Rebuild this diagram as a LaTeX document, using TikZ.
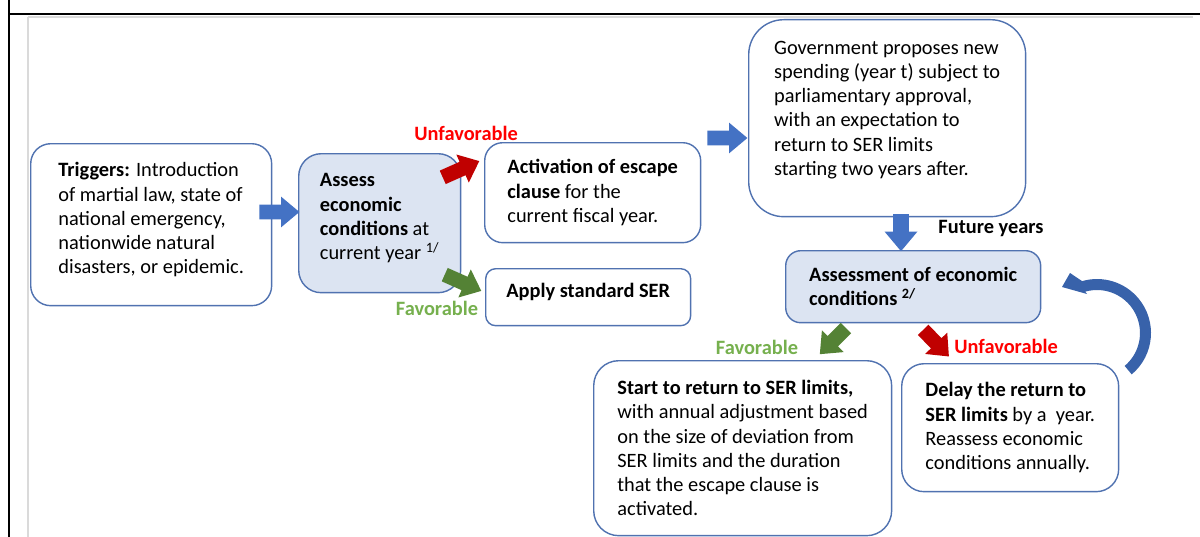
\documentclass[tikz,border=0pt]{standalone}
\usepackage{fontspec}
\setmainfont{Carlito}
\usetikzlibrary{shapes.arrows,positioning,calc}

\definecolor{boxblue}{RGB}{80,114,176}
\definecolor{boxfill}{RGB}{220,228,242}
\definecolor{arrowblue}{RGB}{68,114,196}
\definecolor{curveblue}{RGB}{56,98,170}
\definecolor{arrowred}{RGB}{192,0,0}
\definecolor{arrowgreen}{RGB}{84,130,53}
\definecolor{labelred}{RGB}{255,0,0}
\definecolor{labelgreen}{RGB}{118,176,78}
\definecolor{framegray}{RGB}{218,218,218}

\begin{document}
\begin{tikzpicture}[x=0.02cm, y=0.02cm,
    font=\fontsize{11.6}{13.8}\selectfont,
    box/.style={draw=boxblue, line width=0.8pt, rounded corners=0.4cm, fill=white,
        align=left, inner sep=2pt, text depth=0.26cm, anchor=north west},
    shaded/.style={box, fill=boxfill},
    natural/.style={text depth=},
    blockarrow/.style={single arrow, fill=#1, inner xsep=0pt, inner ysep=0.14cm,
        minimum height=0.8cm, minimum width=0.6cm, single arrow head extend=0.16cm,
        single arrow tip angle=80},
    tag/.style={font=\fontsize{11.6}{13.8}\selectfont\bfseries}]
    \useasboundingbox (0,0) rectangle (1200,-537);

    % Frame
    \draw[line width=1.4pt] (9,0) -- (9,-537);
    \draw[line width=1.4pt] (9,-14) -- (1200,-14);
    \draw[framegray, line width=0.8pt] (28,-17) -- (28,-537);
    \draw[framegray, line width=0.6pt] (28,-17) -- (1193,-17);

    % First year
    \node[box, minimum width=4.82cm, minimum height=3.24cm] (triggers) at (30,-143)
        {\textbf{Triggers:} Introduction\\of martial law, state of\\national emergency,\\nationwide natural\\disasters, or epidemic.};
    \node[shaded, rounded corners=0.45cm, minimum width=3.24cm, minimum height=2.78cm] (assess) at (298,-153)
        {\textbf{Assess}\\\textbf{economic}\\\textbf{conditions} at\\current year \textsuperscript{1/}};
    \node[box, natural, rounded corners=0.36cm, minimum width=4.32cm, minimum height=2.0cm] (escape) at (484,-142)
        {\textbf{Activation of escape}\\\textbf{clause} for the\\current fiscal year.};
    \node[box, rounded corners=0.2cm, minimum width=4.1cm, minimum height=1.14cm] (standard) at (485,-268)
        {\textbf{Apply standard SER}};
    \node[box, rounded corners=0.7cm, minimum width=5.54cm, minimum height=3.94cm, text depth=0.4cm] (govt) at (748,-19)
        {Government proposes new\\spending (year t) subject to\\parliamentary approval,\\with an expectation to\\return to SER limits\\starting two years after.};

    % Future years
    \node[shaded, natural, rounded corners=0.3cm, minimum width=5.1cm, minimum height=1.44cm] (reassess) at (785,-250)
        {\textbf{Assessment of economic}\\\textbf{conditions \textsuperscript{2/}}};
    \node[box, natural, rounded corners=0.5cm, minimum width=5.96cm, minimum height=3.5cm] (return) at (593,-360)
        {\textbf{Start to return to SER limits,}\\with annual adjustment based\\on the size of deviation from\\SER limits and the duration\\that the escape clause is\\activated.};
    \node[box, natural, rounded corners=0.45cm, minimum width=4.34cm, minimum height=2.56cm] (delay) at (901,-363)
        {\textbf{Delay the return to}\\\textbf{SER limits} by a\ \ year.\\Reassess economic\\conditions annually.};

    % Block arrows
    \node[blockarrow=arrowblue] (a1) at (275,-212) {};
    \node[blockarrow=arrowblue] (a2) at (723,-138) {};
    \node[blockarrow=arrowblue, rotate=-90, minimum width=0.66cm, minimum height=0.74cm] (a3) at (901,-228) {};
    \node[blockarrow=arrowred, rotate=24] (a4) at (457,-171) {};
    \node[blockarrow=arrowgreen, rotate=-24] (a5) at (459,-281) {};
    \node[blockarrow=arrowgreen, rotate=-135, minimum height=0.74cm] (a6) at (836,-338) {};
    \node[blockarrow=arrowred, rotate=-46, minimum height=0.74cm] (a7) at (933,-340) {};

    % Loop back to the assessment
    \coordinate (loop) at (1097,-333);
    \fill[curveblue] ($(loop)+(-50:54)$) arc[start angle=-50, end angle=106, radius=1.08cm]
        -- (1070,-273) -- (1062,-287) -- (1087,-294)
        -- ($(loop)+(106:43)$) arc[start angle=106, end angle=-50, radius=0.86cm] -- cycle;

    % Labels
    \node[tag, text=labelred] (unfav1) at (466,-133) {Unfavorable};
    \node[tag, text=labelgreen] (fav1) at (437,-308) {Favorable};
    \node[tag] (future) at (991,-228) {Future years};
    \node[tag, text=labelgreen] (fav2) at (757,-347) {Favorable};
    \node[tag, text=labelred] (unfav2) at (1006,-346) {Unfavorable};
\end{tikzpicture}
\end{document}
